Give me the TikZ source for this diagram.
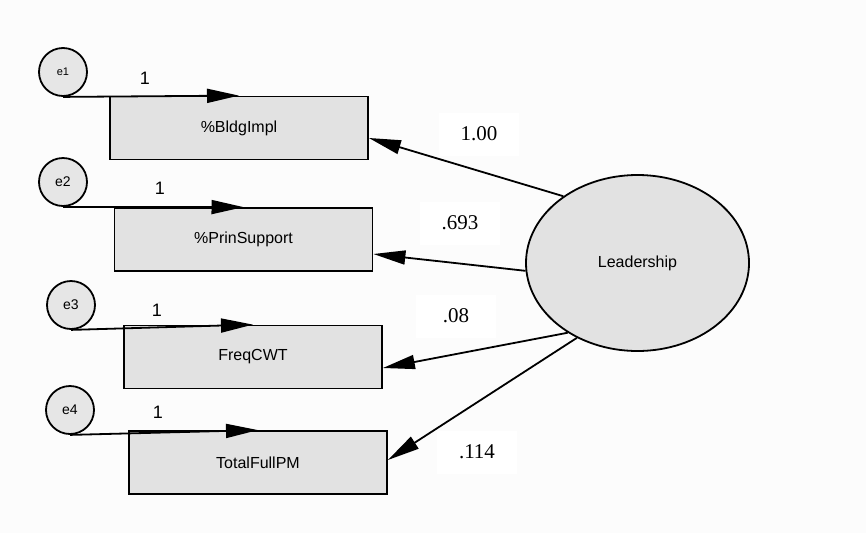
\documentclass[tikz,border=0pt]{standalone}
\usepackage{fontspec}
\setmainfont{Liberation Sans}
\newfontfamily\numfont{Liberation Serif}
\usetikzlibrary{shapes.geometric,arrows.meta}
\definecolor{bgc}{HTML}{FCFCFC}
\definecolor{boxc}{HTML}{E2E2E2}
\definecolor{circc}{HTML}{E6E6E6}
\begin{document}
\begin{tikzpicture}[x=1pt,y=-1pt,
  obsbox/.style={draw=black,line width=1.8pt,fill=boxc,minimum width=258pt,minimum height=63pt,inner sep=0pt,font=\fontsize{16}{18}\selectfont},
  errc/.style={draw=black,line width=1.8pt,fill=circc,circle,minimum size=48pt,inner sep=0pt,font=\fontsize{14}{16}\selectfont},
  latent/.style={draw=black,line width=1.8pt,fill=boxc,ellipse,minimum width=223pt,minimum height=176pt,inner sep=0pt,font=\fontsize{16}{18}\selectfont},
  conn/.style={line width=1.8pt,-{Triangle[length=32pt,width=14pt]}},
  one/.style={font=\fontsize{18}{20}\selectfont,inner sep=0pt},
  coef/.style={fill=white,minimum width=80pt,minimum height=43pt,inner sep=0pt,font=\numfont\fontsize{21}{23}\selectfont}
]
\fill[bgc] (0,0) rectangle (866,533);
\useasboundingbox (0,0) rectangle (866,533);

\node[obsbox] (b1) at (239,128) {\%BldgImpl};
\node[obsbox] (b2) at (243.5,239.5) {\%PrinSupport};
\node[obsbox] (b3) at (253,357) {FreqCWT};
\node[obsbox] (b4) at (258,462.5) {TotalFullPM};

\node[errc,font=\fontsize{11}{13}\selectfont] (e1) at (63,72) {e1};
\node[errc] (e2) at (63,182) {e2};
\node[errc] (e3) at (71,305) {e3};
\node[errc] (e4) at (70,410) {e4};

\node[latent] (L) at (637.5,263) {Leadership};

\draw[conn] (e1.south) -- (b1.north);
\draw[conn] (e2.south) -- (b2.north);
\draw[conn] (e3.south) -- (b3.north);
\draw[conn] (e4.south) -- (b4.north);

\node[one] (o1) at (145,78) {1};
\node[one] (o2) at (160,188) {1};
\node[one] (o3) at (157,310) {1};
\node[one] (o4) at (158,412) {1};

\node[coef] (c1) at (479,134) {1.00};
\node[coef] (c2) at (460,223) {.693};
\node[coef] (c3) at (456,316) {.08};
\node[coef] (c4) at (477,452) {.114};

\draw[conn] (L.138) -- ([yshift=-10pt]b1.east);
\draw[conn] (L.184) -- ([yshift=-14.5pt]b2.east);
\draw[conn] (L.225) -- ([yshift=-11pt]b3.east);
\draw[conn] (L.231) -- ([yshift=2.5pt]b4.east);
\end{tikzpicture}
\end{document}
